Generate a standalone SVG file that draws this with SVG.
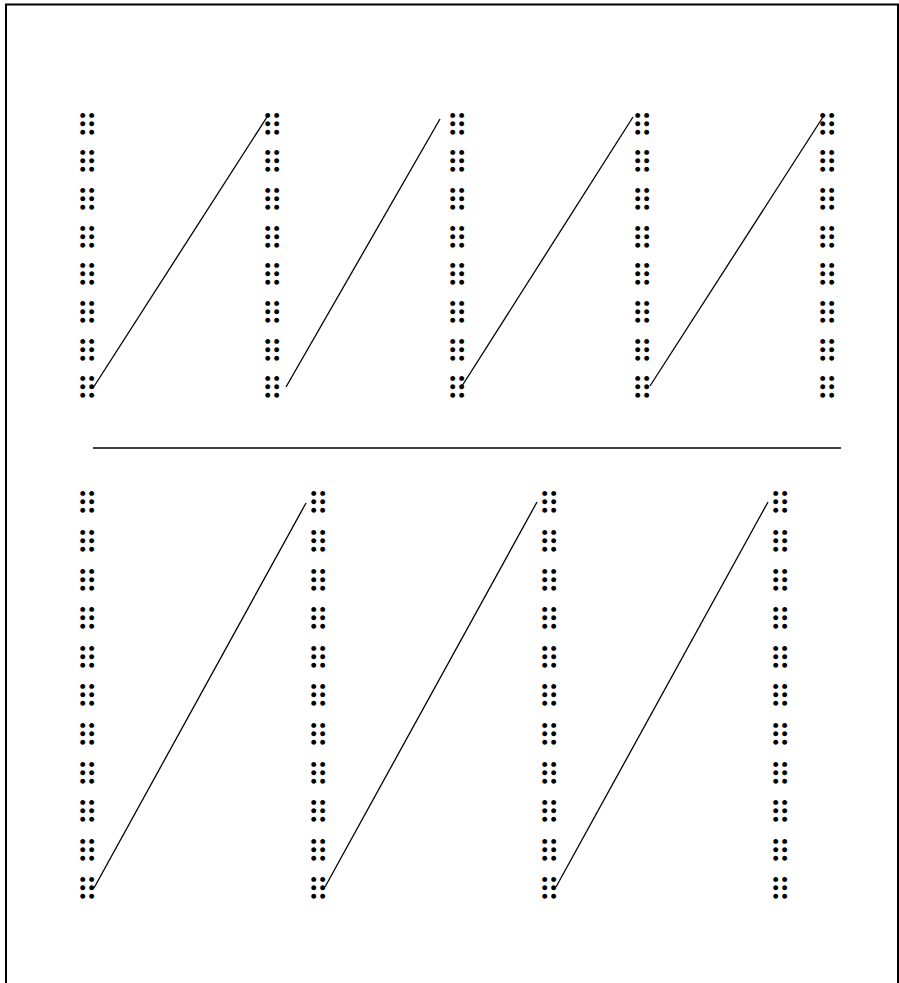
<svg xmlns="http://www.w3.org/2000/svg" width="899" height="983" viewBox="0 0 899 983">
<style>
.c{font-family:"DejaVu Serif",serif;font-size:30.5px;fill:#000}
.l{stroke:#000;stroke-width:1.3;fill:none}
</style>
<rect x="0" y="0" width="899" height="983" fill="#fff"/>
<rect x="6" y="4.5" width="892" height="1000" fill="none" stroke="#000" stroke-width="2"/>
<g id="top-col1">
<text class="c" x="75.9" y="136.6">⠿</text><text class="c" x="75.9" y="174.3">⠿</text><text class="c" x="75.9" y="211.9">⠿</text><text class="c" x="75.9" y="249.6">⠿</text><text class="c" x="75.9" y="287.3">⠿</text><text class="c" x="75.9" y="324.9">⠿</text><text class="c" x="75.9" y="362.6">⠿</text><text class="c" x="75.9" y="400.3">⠿</text>
</g>
<g id="top-col2">
<text class="c" x="260.9" y="136.6">⠿</text><text class="c" x="260.9" y="174.3">⠿</text><text class="c" x="260.9" y="211.9">⠿</text><text class="c" x="260.9" y="249.6">⠿</text><text class="c" x="260.9" y="287.3">⠿</text><text class="c" x="260.9" y="324.9">⠿</text><text class="c" x="260.9" y="362.6">⠿</text><text class="c" x="260.9" y="400.3">⠿</text>
</g>
<g id="top-col3">
<text class="c" x="445.9" y="136.6">⠿</text><text class="c" x="445.9" y="174.3">⠿</text><text class="c" x="445.9" y="211.9">⠿</text><text class="c" x="445.9" y="249.6">⠿</text><text class="c" x="445.9" y="287.3">⠿</text><text class="c" x="445.9" y="324.9">⠿</text><text class="c" x="445.9" y="362.6">⠿</text><text class="c" x="445.9" y="400.3">⠿</text>
</g>
<g id="top-col4">
<text class="c" x="630.9" y="136.6">⠿</text><text class="c" x="630.9" y="174.3">⠿</text><text class="c" x="630.9" y="211.9">⠿</text><text class="c" x="630.9" y="249.6">⠿</text><text class="c" x="630.9" y="287.3">⠿</text><text class="c" x="630.9" y="324.9">⠿</text><text class="c" x="630.9" y="362.6">⠿</text><text class="c" x="630.9" y="400.3">⠿</text>
</g>
<g id="top-col5">
<text class="c" x="815.9" y="136.6">⠿</text><text class="c" x="815.9" y="174.3">⠿</text><text class="c" x="815.9" y="211.9">⠿</text><text class="c" x="815.9" y="249.6">⠿</text><text class="c" x="815.9" y="287.3">⠿</text><text class="c" x="815.9" y="324.9">⠿</text><text class="c" x="815.9" y="362.6">⠿</text><text class="c" x="815.9" y="400.3">⠿</text>
</g>
<g id="bottom-col1">
<text class="c" x="75.9" y="515.3">⠿</text><text class="c" x="75.9" y="553.9">⠿</text><text class="c" x="75.9" y="592.5">⠿</text><text class="c" x="75.9" y="631.1">⠿</text><text class="c" x="75.9" y="669.7">⠿</text><text class="c" x="75.9" y="708.3">⠿</text><text class="c" x="75.9" y="746.9">⠿</text><text class="c" x="75.9" y="785.5">⠿</text><text class="c" x="75.9" y="824.1">⠿</text><text class="c" x="75.9" y="862.7">⠿</text><text class="c" x="75.9" y="901.3">⠿</text>
</g>
<g id="bottom-col2">
<text class="c" x="306.9" y="515.3">⠿</text><text class="c" x="306.9" y="553.9">⠿</text><text class="c" x="306.9" y="592.5">⠿</text><text class="c" x="306.9" y="631.1">⠿</text><text class="c" x="306.9" y="669.7">⠿</text><text class="c" x="306.9" y="708.3">⠿</text><text class="c" x="306.9" y="746.9">⠿</text><text class="c" x="306.9" y="785.5">⠿</text><text class="c" x="306.9" y="824.1">⠿</text><text class="c" x="306.9" y="862.7">⠿</text><text class="c" x="306.9" y="901.3">⠿</text>
</g>
<g id="bottom-col3">
<text class="c" x="537.9" y="515.3">⠿</text><text class="c" x="537.9" y="553.9">⠿</text><text class="c" x="537.9" y="592.5">⠿</text><text class="c" x="537.9" y="631.1">⠿</text><text class="c" x="537.9" y="669.7">⠿</text><text class="c" x="537.9" y="708.3">⠿</text><text class="c" x="537.9" y="746.9">⠿</text><text class="c" x="537.9" y="785.5">⠿</text><text class="c" x="537.9" y="824.1">⠿</text><text class="c" x="537.9" y="862.7">⠿</text><text class="c" x="537.9" y="901.3">⠿</text>
</g>
<g id="bottom-col4">
<text class="c" x="768.9" y="515.3">⠿</text><text class="c" x="768.9" y="553.9">⠿</text><text class="c" x="768.9" y="592.5">⠿</text><text class="c" x="768.9" y="631.1">⠿</text><text class="c" x="768.9" y="669.7">⠿</text><text class="c" x="768.9" y="708.3">⠿</text><text class="c" x="768.9" y="746.9">⠿</text><text class="c" x="768.9" y="785.5">⠿</text><text class="c" x="768.9" y="824.1">⠿</text><text class="c" x="768.9" y="862.7">⠿</text><text class="c" x="768.9" y="901.3">⠿</text>
</g>
<g id="connectors">
<line class="l" x1="93" y1="388" x2="267" y2="117"/>
<line class="l" x1="286" y1="387" x2="440" y2="119"/>
<line class="l" x1="462" y1="386" x2="633" y2="117"/>
<line class="l" x1="650" y1="386" x2="823" y2="117"/>
<line class="l" x1="93" y1="448" x2="841" y2="448"/>
<line class="l" x1="94" y1="888" x2="306" y2="503"/>
<line class="l" x1="325" y1="887" x2="537" y2="502"/>
<line class="l" x1="556" y1="887" x2="768" y2="502"/>
</g>
</svg>
